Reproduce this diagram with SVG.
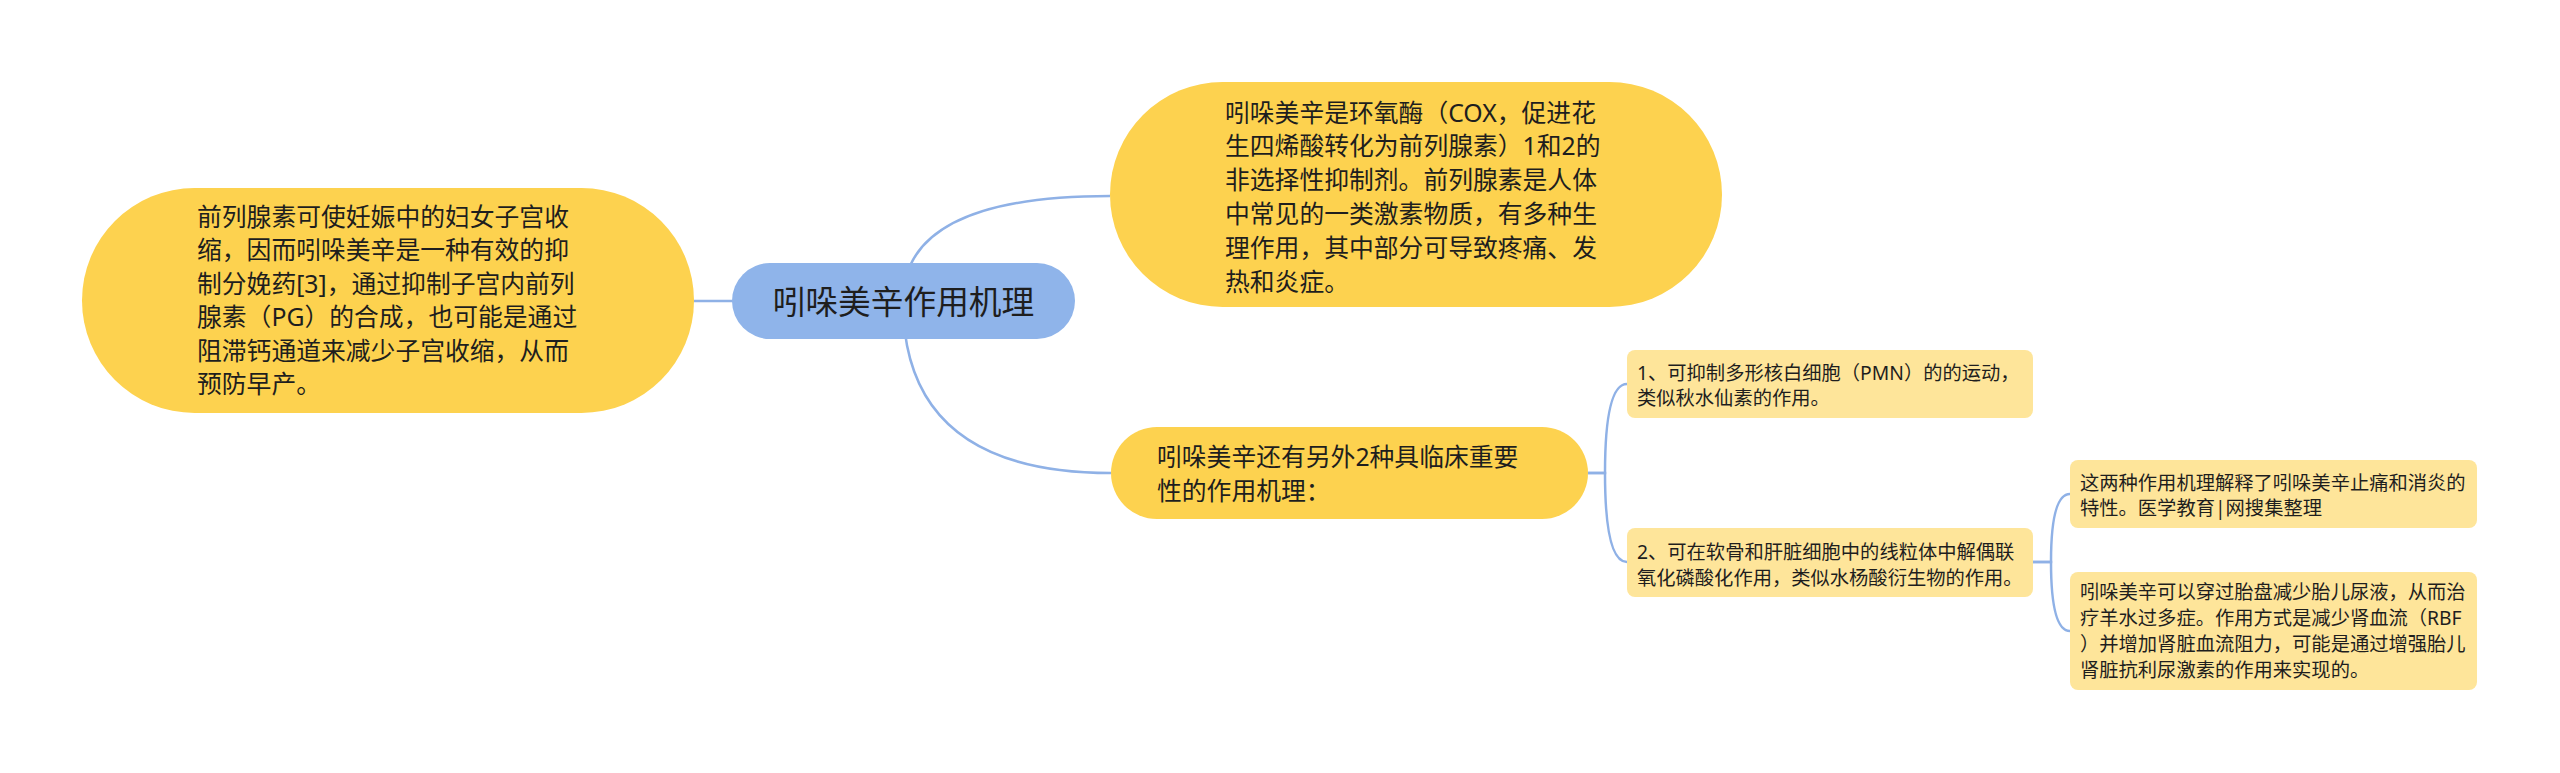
<svg xmlns="http://www.w3.org/2000/svg" width="2560" height="773" viewBox="0 0 2560 773">
<style>
.bg{fill:#ffffff}
.link{fill:none;stroke:#8FB1E6;stroke-width:2.5}
.root{fill:#8FB4EA}
.main{fill:#FDD24F}
.sub{fill:#FEE59A}
text{font-family:"Noto Sans","Noto Sans CJK SC",sans-serif;fill:#1e1e1e}
.t-root{font-size:32.7px;text-anchor:middle}
.t-main{font-size:24.8px}
.t-sub{font-size:19.3px}
</style>
<rect class="bg" x="0" y="0" width="2560" height="773"/>
<g id="connectors">
<path class="link" d="M903 301 L694 301"/>
<path class="link" d="M903 301 Q903 196 1110 196"/>
<path class="link" d="M903 301 Q903 473 1111 473"/>
<path class="link" d="M1588 473 H1605 Q1605 384 1627 384"/>
<path class="link" d="M1588 473 H1605 Q1605 562 1627 562"/>
<path class="link" d="M2033 562 H2051 Q2051 494 2070 494"/>
<path class="link" d="M2033 562 H2051 Q2051 631 2070 631"/>
</g>
<g id="node-root">
<rect class="root" x="732" y="263" width="343" height="76" rx="38"/>
<text class="t-root" x="903.5" y="313.5">吲哚美辛作用机理</text>
</g>
<g id="node-left">
<rect class="main" x="82" y="188" width="612" height="225" rx="112.5"/>
<text class="t-main" x="197">
<tspan x="197" y="226">前列腺素可使妊娠中的妇女子宫收</tspan>
<tspan x="197" y="259.4">缩，因而吲哚美辛是一种有效的抑</tspan>
<tspan x="197" y="292.8">制分娩药[3]，通过抑制子宫内前列</tspan>
<tspan x="197" y="326.2">腺素（PG）的合成，也可能是通过</tspan>
<tspan x="197" y="359.6">阻滞钙通道来减少子宫收缩，从而</tspan>
<tspan x="197" y="393">预防早产。</tspan>
</text>
</g>
<g id="node-top">
<rect class="main" x="1110" y="82" width="612" height="225" rx="112.5"/>
<text class="t-main" x="1225">
<tspan x="1225" y="121.5">吲哚美辛是环氧酶（COX，促进花</tspan>
<tspan x="1225" y="155.3">生四烯酸转化为前列腺素）1和2的</tspan>
<tspan x="1225" y="189.1">非选择性抑制剂。前列腺素是人体</tspan>
<tspan x="1225" y="222.9">中常见的一类激素物质，有多种生</tspan>
<tspan x="1225" y="256.7">理作用，其中部分可导致疼痛、发</tspan>
<tspan x="1225" y="290.5">热和炎症。</tspan>
</text>
</g>
<g id="node-mid">
<rect class="main" x="1111" y="427" width="477" height="92" rx="46"/>
<text class="t-main" x="1157">
<tspan x="1157" y="465.5">吲哚美辛还有另外2种具临床重要</tspan>
<tspan x="1157" y="500">性的作用机理：</tspan>
</text>
</g>
<g id="node-a">
<rect class="sub" x="1627" y="350" width="406" height="68" rx="8"/>
<text class="t-sub" x="1637">
<tspan x="1637" y="380">1、可抑制多形核白细胞（PMN）的的运动，</tspan>
<tspan x="1637" y="405">类似秋水仙素的作用。</tspan>
</text>
</g>
<g id="node-b">
<rect class="sub" x="1627" y="528" width="406" height="69" rx="8"/>
<text class="t-sub" x="1637">
<tspan x="1637" y="559">2、可在软骨和肝脏细胞中的线粒体中解偶联</tspan>
<tspan x="1637" y="585">氧化磷酸化作用，类似水杨酸衍生物的作用。</tspan>
</text>
</g>
<g id="node-c">
<rect class="sub" x="2070" y="460" width="407" height="68" rx="8"/>
<text class="t-sub" x="2080">
<tspan x="2080" y="490">这两种作用机理解释了吲哚美辛止痛和消炎的</tspan>
<tspan x="2080" y="515">特性。医学教育|网搜集整理</tspan>
</text>
</g>
<g id="node-d">
<rect class="sub" x="2070" y="572" width="407" height="118" rx="8"/>
<text class="t-sub" x="2080">
<tspan x="2080" y="599">吲哚美辛可以穿过胎盘减少胎儿尿液，从而治</tspan>
<tspan x="2080" y="625">疗羊水过多症。作用方式是减少肾血流（RBF</tspan>
<tspan x="2080" y="651">）并增加肾脏血流阻力，可能是通过增强胎儿</tspan>
<tspan x="2080" y="677">肾脏抗利尿激素的作用来实现的。</tspan>
</text>
</g>
</svg>
